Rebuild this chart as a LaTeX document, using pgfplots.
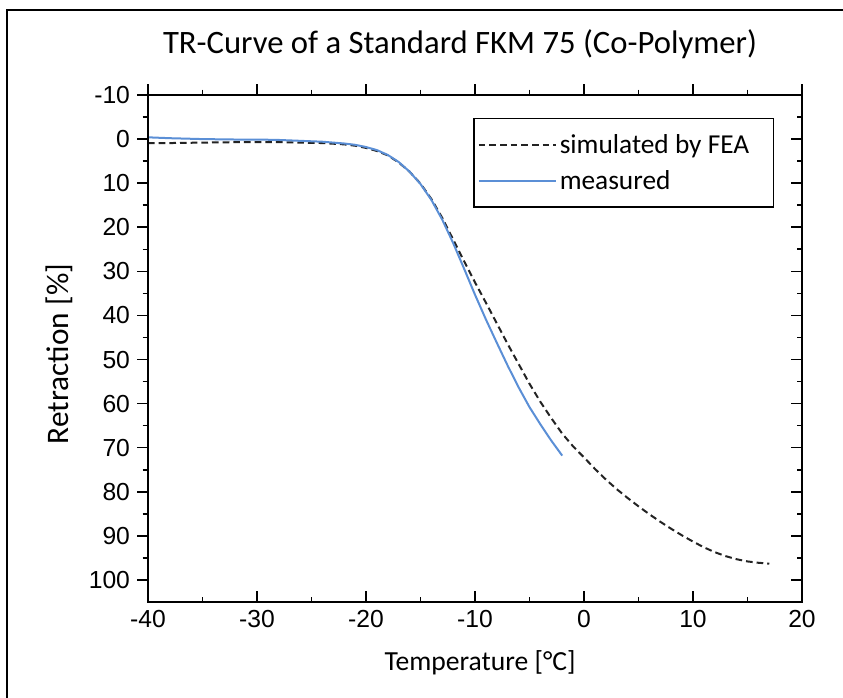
\documentclass[border=0pt]{standalone}
\usepackage{pgfplots}
\pgfplotsset{compat=1.18}
\usepackage{fontspec}
\setmainfont{Carlito}
\newfontfamily\arialf{Liberation Sans}
\definecolor{meas}{RGB}{91,143,214}
\definecolor{sim}{RGB}{35,35,35}
\newcommand\tickfont{\arialf\fontsize{18.5}{21}\selectfont}

\begin{document}
\begin{tikzpicture}[x=0.75pt,y=0.75pt]
% page = 843 x 698 px, 1 px = 0.75 pt
\useasboundingbox (0,0) rectangle (843,698);
\draw[line width=1.6pt] (7,-2) -- (7,688) -- (845,688);

\pgfplotsset{
  trbase/.style={
    at={(111pt,72pt)}, anchor=south west, scale only axis,
    width=490.5pt, height=380.25pt,
    xmin=-40, xmax=20, ymin=-10, ymax=105, y dir=reverse,
    xtick={-40,-30,...,20}, ytick={-10,0,...,100},
    minor x tick num=1, minor y tick num=1,
    major tick length=8pt, minor tick length=4pt,
    axis line style={line width=1.4pt},
    every tick/.style={black, line width=1.2pt},
  }
}

\begin{axis}[trbase,
  xtick pos=left, xtick align=inside,
  ytick pos=left, ytick align=outside,
  xticklabel={\tickfont\pgfmathprintnumber[assume math mode=true]{\tick}},
  yticklabel={\tickfont\pgfmathprintnumber[assume math mode=true]{\tick}},
  yticklabel style={xshift=-2pt},
  xticklabel style={yshift=-3pt},
  legend style={at={(0.497,0.955)}, anchor=north west, draw=black,
    line width=1.1pt, font=\fontsize{20.5}{24}\selectfont,
    inner xsep=3pt, inner ysep=10pt, row sep=7pt},
  legend cell align=left,
  legend image code/.code={\draw[#1] (0pt,0pt) -- (49pt,0pt); \path (0pt,0pt) -- (58pt,0pt);},
]
\addplot[sim, line width=1.5pt, dash pattern=on 5pt off 3pt] coordinates {
 (-40,0.9) (-38,0.9) (-35,0.8) (-32,0.7) (-30,0.7) (-28,0.7) (-26,0.8) (-24,0.9)
 (-22,1.2) (-21,1.5) (-20,2.0) (-19,2.7) (-18,3.7) (-17,5.3) (-16,7.4) (-15,10.1)
 (-14,13.6) (-13,17.9) (-12,22.8) (-11,27.7) (-10,32.5) (-9,37.1) (-8,41.8)
 (-7,46.5) (-6,51.0) (-5,55.5) (-4,59.6) (-3,63.3) (-2,66.8) (-1,69.7) (0,72.2)
 (1,74.8) (2,77.2) (3,79.4) (4,81.4) (5,83.3) (6,85.1) (7,86.8) (8,88.4) (9,89.9)
 (10,91.3) (11,92.6) (12,93.7) (13,94.6) (14,95.3) (15,95.8) (16,96.1) (17,96.3)};
\addlegendentry{simulated by FEA\hspace{13pt}\null}
\addplot[meas, line width=1.5pt] coordinates {
 (-40,-0.4) (-38,-0.2) (-35,0) (-32,0.1) (-30,0.1) (-28,0.2) (-26,0.4) (-24,0.6)
 (-22,1.0) (-21,1.3) (-20,1.8) (-19,2.5) (-18,3.6) (-17,5.2) (-16,7.4) (-15,10.2)
 (-14,13.8) (-13,18.3) (-12,23.6) (-11,29.4) (-10,35.3) (-9,40.9) (-8,46.2)
 (-7,51.4) (-6,56.3) (-5,60.8) (-4,64.7) (-3,68.4) (-2,71.8)};
\addlegendentry{measured}
\end{axis}

% mirrored ticks on top and right, same direction as the opposite side
\begin{axis}[trbase,
  xtick pos=right, xtick align=outside,
  ytick pos=right, ytick align=inside,
  xticklabels={}, yticklabels={},
]
\end{axis}

\node[font=\fontsize{24.5}{28}\selectfont] at (460,654) {TR-Curve of a Standard FKM 75 (Co-Polymer)};
\node[font=\fontsize{20.7}{24}\selectfont] at (480,35) {Temperature [°C]};
\node[font=\fontsize{23.5}{28}\selectfont, rotate=90] at (59,344) {Retraction [\%]};
\end{tikzpicture}
\end{document}
